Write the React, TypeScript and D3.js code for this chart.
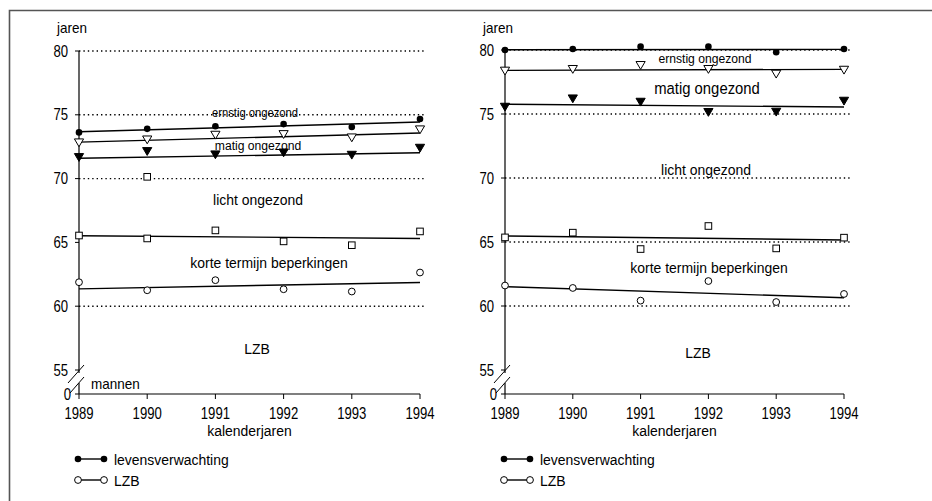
import React, { useEffect, useRef } from 'react';
import * as d3 from 'd3';

// kalenderjaren en y-as
const years = [1989, 1990, 1991, 1992, 1993, 1994];
const yTicks = [80, 75, 70, 65, 60, 55];

// mannen
const menLeven = [73.62, 73.9, 74.1, 74.27, 74.04, 74.67];
const menErnstig = [72.84, 73.07, 73.44, 73.49, 73.23, 73.86];
const menMatig = [71.69, 72.16, 71.9, 72.05, 71.87, 72.42];
const menLicht = [65.54, 65.31, 65.94, 65.08, 64.78, 65.86];
const menKorte = [61.88, 61.25, 62.04, 61.33, 61.15, 62.64];
const menExtraYear = [1990];
const menExtraValue = [70.14];
const menTrendStart = [73.67, 72.86, 71.6, 65.52, 61.36];
const menTrendEnd = [74.43, 73.57, 72.02, 65.31, 61.86];
const menGrid = [80, 75, 70, 60];

// vrouwen
const womenLeven = [80.0, 80.08, 80.26, 80.26, 79.82, 80.08];
const womenErnstig = [78.39, 78.52, 78.83, 78.52, 78.15, 78.46];
const womenMatig = [75.57, 76.22, 75.96, 75.16, 75.18, 76.04];
const womenLicht = [65.36, 65.73, 64.45, 66.25, 64.5, 65.34];
const womenKorte = [61.6, 61.41, 60.42, 61.95, 60.31, 60.94];
const womenTrendStart = [80.02, 78.41, 75.76, 65.47, 61.51];
const womenTrendEnd = [80.05, 78.49, 75.55, 65.16, 60.65];
const womenGrid = [80, 75, 70, 65, 60];

const markerTypes = ['dot', 'triOpen', 'triFilled', 'square', 'circleOpen'];

const FONT = '"Liberation Sans Narrow", "Arial Narrow", "Liberation Sans", sans-serif';

const panels = [
  {
    left: 79, right: 420, top: 51, gridEnd: 425,
    series: [menLeven, menErnstig, menMatig, menLicht, menKorte],
    trendStart: menTrendStart, trendEnd: menTrendEnd, grid: menGrid,
    extra: menExtraYear.map((y, i) => ({ year: y, value: menExtraValue[i] })),
    labels: [
      { text: 'ernstig ongezond', x: 255, y: 117, size: 12.5 },
      { text: 'matig ongezond', x: 258, y: 150, size: 13.5 },
      { text: 'licht ongezond', x: 258, y: 205, size: 15.5 },
      { text: 'korte termijn beperkingen', x: 269, y: 268, size: 15.5 },
      { text: 'LZB', x: 257, y: 354, size: 15.5 },
    ],
    sex: 'mannen',
  },
  {
    left: 505, right: 844, top: 50, gridEnd: 851,
    series: [womenLeven, womenErnstig, womenMatig, womenLicht, womenKorte],
    trendStart: womenTrendStart, trendEnd: womenTrendEnd, grid: womenGrid,
    extra: [],
    labels: [
      { text: 'ernstig ongezond', x: 705, y: 63, size: 13.5 },
      { text: 'matig ongezond', x: 707, y: 94, size: 16.5 },
      { text: 'licht ongezond', x: 706, y: 175, size: 15.5 },
      { text: 'korte termijn beperkingen', x: 709, y: 273, size: 15.5 },
      { text: 'LZB', x: 698, y: 358, size: 15.5 },
    ],
    sex: '',
  },
];

// smalle letters nabootsen: horizontaal samengedrukt
const addText = (g, text, x, y, size, anchor = 'start', sx = 0.9) => {
  g.append('text')
    .attr('transform', `translate(${x},${y}) scale(${sx},1)`)
    .attr('text-anchor', anchor)
    .attr('font-size', size)
    .text(text);
};

const drawMarker = (g, type, cx, cy) => {
  if (type === 'dot') {
    g.append('circle').attr('cx', cx).attr('cy', cy).attr('r', 3.3).attr('fill', '#000');
  } else if (type === 'circleOpen') {
    g.append('circle').attr('cx', cx).attr('cy', cy).attr('r', 3.4)
      .attr('fill', '#fff').attr('stroke', '#000').attr('stroke-width', 1);
  } else if (type === 'square') {
    g.append('rect').attr('x', cx - 3.3).attr('y', cy - 3.3).attr('width', 6.6).attr('height', 6.6)
      .attr('fill', '#fff').attr('stroke', '#000').attr('stroke-width', 1);
  } else {
    const s = 4.6;
    g.append('path')
      .attr('d', `M${cx - s},${cy - s * 0.75}L${cx + s},${cy - s * 0.75}L${cx},${cy + s * 0.95}Z`)
      .attr('fill', type === 'triFilled' ? '#000' : '#fff')
      .attr('stroke', '#000').attr('stroke-width', 1);
  }
};

const App = () => {
  const chart = useRef(null);

  useEffect(() => {
    chart.current.innerHTML = '';
    const svg = d3.select(chart.current)
      .append('svg')
      .attr('width', 932)
      .attr('height', 501)
      .style('position', 'absolute')
      .style('left', 0)
      .style('top', 0)
      .style('font-family', FONT);

    svg.append('rect').attr('width', 932).attr('height', 501).attr('fill', '#fff');
    // kader
    svg.append('path').attr('d', 'M9.5,501L9.5,10.5L932,10.5')
      .attr('fill', 'none').attr('stroke', '#555').attr('stroke-width', 1.6);

    panels.forEach(p => {
      const g = svg.append('g');
      const x = d3.scaleLinear().domain([1989, 1994]).range([p.left, p.right]);
      const y = d3.scaleLinear().domain([55, 80]).range([370, p.top]);
      const y0 = 394;

      // stippellijnen
      g.selectAll('.grid').data(p.grid).enter().append('line')
        .attr('x1', p.left).attr('x2', p.gridEnd)
        .attr('y1', d => y(d)).attr('y2', d => y(d))
        .attr('stroke', '#000').attr('stroke-width', 1.4)
        .attr('stroke-dasharray', '1.4,3');

      // y-as met breuk
      g.append('line').attr('x1', p.left).attr('x2', p.left).attr('y1', y(80)).attr('y2', 373)
        .attr('stroke', '#000').attr('stroke-width', 1.2);
      g.append('line').attr('x1', p.left).attr('x2', p.left).attr('y1', 383).attr('y2', y0)
        .attr('stroke', '#000').attr('stroke-width', 1.2);
      g.append('line').attr('x1', p.left - 11).attr('y1', 383).attr('x2', p.left + 5).attr('y2', 365)
        .attr('stroke', '#000').attr('stroke-width', 1);
      g.append('line').attr('x1', p.left - 9).attr('y1', 393).attr('x2', p.left + 5).attr('y2', 377)
        .attr('stroke', '#000').attr('stroke-width', 1);

      g.selectAll('.ytick').data(yTicks).enter().append('line')
        .attr('x1', p.left - 4).attr('x2', p.left)
        .attr('y1', d => y(d)).attr('y2', d => y(d))
        .attr('stroke', '#000').attr('stroke-width', 1);
      yTicks.forEach(d => addText(g, d, p.left - 11, y(d) + 5.5, 16, 'end', 0.82));
      g.append('line').attr('x1', p.left - 4).attr('x2', p.left).attr('y1', y0).attr('y2', y0)
        .attr('stroke', '#000');
      addText(g, '0', p.left - 8, y0 + 5.5, 16, 'end', 0.82);

      // x-as
      g.append('line').attr('x1', p.left).attr('x2', p.right).attr('y1', y0).attr('y2', y0)
        .attr('stroke', '#000').attr('stroke-width', 1.2);
      g.selectAll('.xtick').data(years).enter().append('line')
        .attr('x1', d => x(d)).attr('x2', d => x(d)).attr('y1', y0).attr('y2', y0 + 5)
        .attr('stroke', '#000').attr('stroke-width', 1);
      years.forEach(d => addText(g, d, x(d), 418.5, 16, 'middle', 0.82));
      addText(g, 'kalenderjaren', (p.left + p.right) / 2, 436, 15.5, 'middle');
      addText(g, 'jaren', p.left - 22, 33, 15);
      if (p.sex) addText(g, p.sex, p.left + 12, 389, 15);

      // trendlijnen
      p.trendStart.forEach((v, i) => {
        g.append('line')
          .attr('x1', x(1989)).attr('y1', y(v))
          .attr('x2', x(1994)).attr('y2', y(p.trendEnd[i]))
          .attr('stroke', '#000').attr('stroke-width', 1.4);
      });

      // punten
      p.series.forEach((vals, si) => {
        vals.forEach((v, i) => drawMarker(g, markerTypes[si], x(years[i]), y(v)));
      });
      p.extra.forEach(e => drawMarker(g, 'square', x(e.year), y(e.value)));

      // gebiedlabels
      p.labels.forEach(l => addText(g, l.text, l.x, l.y, l.size, 'middle'));

      // legenda
      const legend = [
        { type: 'dot', text: 'levensverwachting', ly: 459 },
        { type: 'circleOpen', text: 'LZB', ly: 480 },
      ];
      legend.forEach(l => {
        g.append('line').attr('x1', p.left - 1).attr('x2', p.left + 25)
          .attr('y1', l.ly).attr('y2', l.ly).attr('stroke', '#000').attr('stroke-width', 1.4);
        drawMarker(g, l.type, p.left - 1, l.ly);
        drawMarker(g, l.type, p.left + 25, l.ly);
        addText(g, l.text, p.left + 35, l.ly + 5.5, 15.5);
      });
    });
  }, []);

  return (
    <>
      <div ref={chart}></div>
    </>
  );
};

export default App;
